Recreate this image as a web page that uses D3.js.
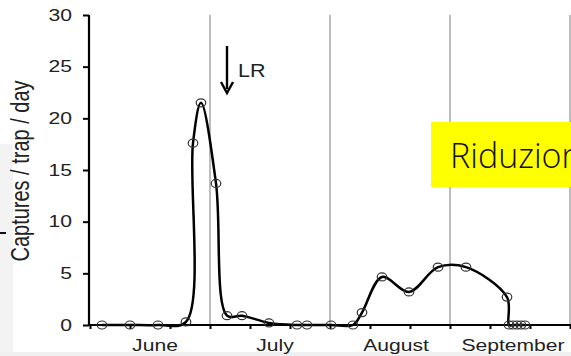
<!DOCTYPE html>
<html><head><meta charset="utf-8">
<script src="https://cdn.jsdelivr.net/npm/d3@7"></script>
<style>html,body{margin:0;padding:0;background:#fff;overflow:hidden}svg{display:block}</style>
</head><body>
<script>
// Data: day offset from June 1, captures per trap per day
const days = [3, 10, 17, 24, 25.75, 27.75, 31.5, 34.25, 38, 44.75, 51.75, 54.25, 60.25, 65.75, 68, 73, 79.75, 87, 94, 104.25, 104.75, 105.75, 106.75, 107.75, 108.75];
const captures = [0, 0, 0, 0.3, 17.6, 21.5, 13.7, 0.9, 0.9, 0.2, 0, 0, 0, 0, 1.2, 4.65, 3.2, 5.6, 5.6, 2.7, 0, 0, 0, 0, 0];
const yTicks = [0, 5, 10, 15, 20, 25, 30];
const monthNames = ["June", "July", "August", "September"];
const monthLabelDays = [16.25, 46.25, 76.5, 105.75];
const monthBoundaries = [30, 60, 90, 120];
const xTickDays = [0, 10, 20, 30, 40, 50, 60, 70, 80, 90, 100, 110, 120];
const arrowDay = 34.25;

const W = 571, H = 356;
const FONT = "Liberation Sans, Arial, Helvetica, sans-serif";
const SX = 1.28; // horizontal stretch of the reference's text
const svg = d3.select("body").append("svg").attr("width", W).attr("height", H);

// left/bottom background artefacts
svg.append("rect").attr("x", 0).attr("y", 144).attr("width", 13).attr("height", H - 144).attr("fill", "#f3f3f3");
svg.append("rect").attr("x", 0).attr("y", 352).attr("width", W).attr("height", 4).attr("fill", "#f0f0f0");
svg.append("line").attr("x1", 0).attr("x2", 6).attr("y1", 233).attr("y2", 233).attr("stroke", "#111").attr("stroke-width", 2);

const x = d3.scaleLinear().domain([0, 120]).range([90, 570]);
const y = d3.scaleLinear().domain([0, 30]).range([325, 15]);

// grid lines at month boundaries
svg.append("g").selectAll("line").data(monthBoundaries).join("line")
  .attr("x1", d => x(d)).attr("x2", d => x(d))
  .attr("y1", y(30)).attr("y2", y(0))
  .attr("stroke", "#bdbdbd").attr("stroke-width", 2);

// x axis
const xAxis = svg.append("g").attr("transform", `translate(0,${y(0)})`)
  .call(d3.axisBottom(x).tickValues(xTickDays).tickSize(4).tickFormat(""));
xAxis.select(".domain").attr("d", `M88,0H${W}`).attr("stroke", "#000").attr("stroke-width", 2.2);
xAxis.selectAll(".tick line").attr("stroke", "#000").attr("stroke-width", 2);

// y axis
const yAxis = svg.append("g").attr("transform", `translate(89,0)`)
  .call(d3.axisLeft(y).tickValues(yTicks).tickSize(6));
yAxis.select(".domain").attr("d", `M0,${y(30)}V${y(0) + 1}`).attr("stroke", "#000").attr("stroke-width", 2.2);
yAxis.selectAll(".tick line").attr("stroke", "#000").attr("stroke-width", 2);
yAxis.selectAll(".tick text")
  .attr("font-family", FONT).attr("font-size", 16.5).attr("fill", "#222")
  .attr("x", -17 / SX).attr("transform", `scale(${SX},1)`);

// month labels
svg.append("g").selectAll("text").data(monthNames).join("text")
  .attr("transform", (d, i) => `translate(${x(monthLabelDays[i])},351) scale(${SX},1)`)
  .attr("text-anchor", "middle")
  .attr("font-family", FONT).attr("font-size", 16.5).attr("fill", "#222")
  .text(d => d);

// y label
svg.append("text").attr("transform", "translate(29,171) rotate(-90) scale(1,1.25)")
  .attr("text-anchor", "middle")
  .attr("font-family", FONT).attr("font-size", 20).attr("fill", "#222")
  .text("Captures / trap / day");

// line
const pts = days.map((d, i) => [d, captures[i]]);
svg.append("path").datum(pts)
  .attr("d", d3.line().x(d => x(d[0])).y(d => y(d[1])).curve(d3.curveCatmullRom.alpha(0.5)))
  .attr("fill", "none").attr("stroke", "#000").attr("stroke-width", 2.5);

svg.append("g").selectAll("ellipse").data(pts).join("ellipse")
  .attr("cx", d => x(d[0])).attr("cy", d => y(d[1])).attr("rx", 4.8).attr("ry", 4)
  .attr("fill", "none").attr("stroke", "#333").attr("stroke-width", 1.2);

// LR arrow
const ax = x(arrowDay);
svg.append("line").attr("x1", ax).attr("x2", ax).attr("y1", 46).attr("y2", 89)
  .attr("stroke", "#000").attr("stroke-width", 2.4);
svg.append("path").attr("d", `M${ax - 6},${82}L${ax},${93}L${ax + 6},${82}`)
  .attr("fill", "none").attr("stroke", "#000").attr("stroke-width", 2.4);
svg.append("text").attr("transform", `translate(${ax + 11},77) scale(1.2,1)`)
  .attr("font-family", FONT).attr("font-size", 18).attr("fill", "#222")
  .text("LR");

// yellow annotation box
svg.append("rect").attr("x", 431).attr("y", 122).attr("width", 150).attr("height", 65).attr("fill", "#ffff00");
svg.append("text").attr("x", 450).attr("y", 168)
  .attr("font-family", "Open Sans, sans-serif").attr("font-weight", 300).attr("font-size", 34).attr("fill", "#111")
  .text("Riduzione");
</script>
</body></html>
